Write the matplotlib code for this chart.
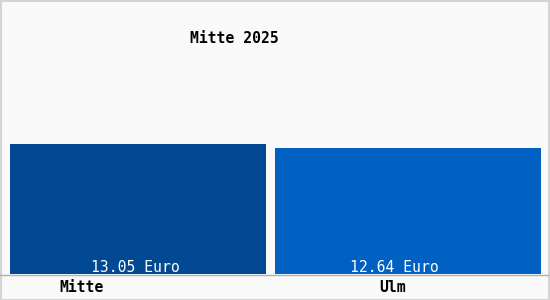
import matplotlib
matplotlib.use("Agg")
import matplotlib.pyplot as plt
from matplotlib.patches import Rectangle

categories = ["Mitte", "Ulm"]
values = [13.05, 12.64]
value_labels = ["13.05 Euro", "12.64 Euro"]
title = "Mitte 2025"
colors = ["#014a93", "#0061c2"]

W, H = 550, 300
fig = plt.figure(figsize=(W / 100, H / 100), dpi=100)
fig.patch.set_facecolor("#f9f9f9")
fig.add_artist(Rectangle((0.5 / W, 0.5 / H), 1 - 1.5 / W, 1 - 1.5 / H, transform=fig.transFigure,
                         fill=False, edgecolor="#d4d4d4", linewidth=1.5))

# axes: x from 10 to 541 px, y from 274 (bottom) to 14 (top)
ax = fig.add_axes([10 / W, (H - 274) / H, 531 / W, 260 / H])
ax.set_facecolor("none")
ymax = 13.05 * 260 / 130
ax.set_ylim(0, ymax)
ax.set_xlim(0, 531)
lefts = [0, 265]
widths = [256, 266]
ax.bar(lefts, values, width=widths, align="edge", color=colors, linewidth=0)
for s in ax.spines.values():
    s.set_visible(False)
ax.set_xticks([])
ax.set_yticks([])

# baseline
fig.add_artist(plt.Line2D([0, 1 - 2 / W], [(H - 275) / H] * 2, transform=fig.transFigure,
                          color="#b0b0b0", linewidth=1))

mono = "DejaVu Sans Mono"
fig.text(234 / W, (H - 38.5) / H, title, ha="center", va="center", fontsize=10.6,
         family=mono, fontweight="bold", color="black")
val_x = [135, 394]
for x, lab in zip(val_x, value_labels):
    fig.text(x / W, (H - 268) / H, lab, ha="center", va="center", fontsize=10.6,
             family=mono, color="white")
cat_x = [82, 393]
for x, c in zip(cat_x, categories):
    fig.text(x / W, (H - 288) / H, c, ha="center", va="center", fontsize=10.6,
             family=mono, fontweight="bold", color="black")

fig.savefig("out.png", dpi=100, facecolor=fig.get_facecolor())
